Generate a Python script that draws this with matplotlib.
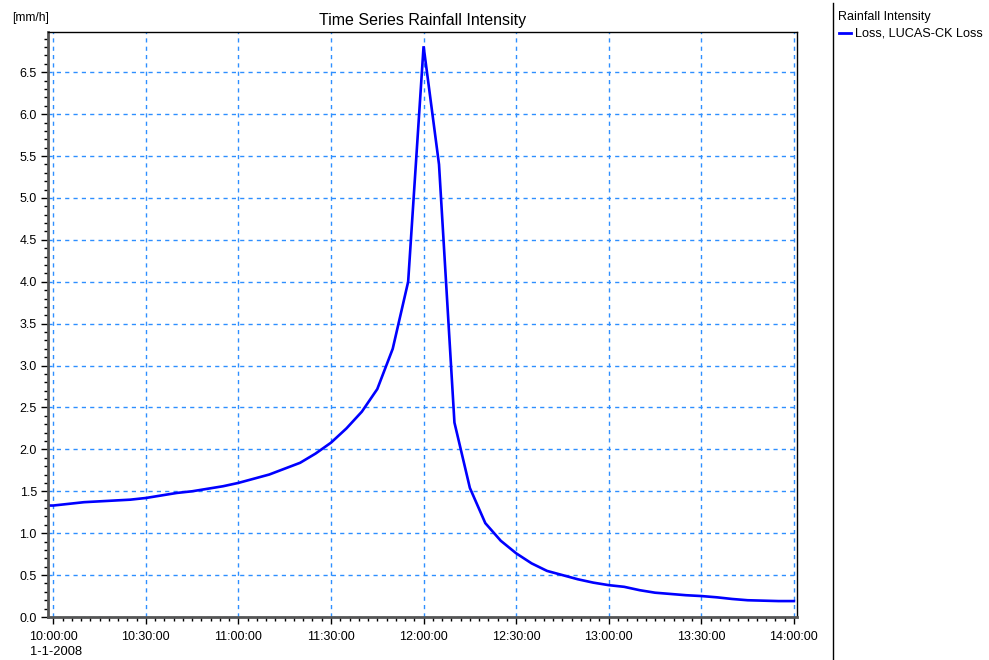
import datetime as dt
import matplotlib
matplotlib.use("Agg")
import matplotlib.pyplot as plt
import matplotlib.dates as mdates
from matplotlib.ticker import MultipleLocator

plt.rcParams['font.family'] = ['Liberation Sans', 'DejaVu Sans']

# 5-minute rainfall intensity [mm/h]
times = ["09:55", "10:00", "10:05", "10:10", "10:15", "10:20", "10:25", "10:30",
         "10:35", "10:40", "10:45", "10:50", "10:55", "11:00", "11:05", "11:10",
         "11:15", "11:20", "11:25", "11:30", "11:35", "11:40", "11:45", "11:50",
         "11:55", "12:00", "12:05", "12:10", "12:15", "12:20", "12:25", "12:30",
         "12:35", "12:40", "12:45", "12:50", "12:55", "13:00", "13:05", "13:10",
         "13:15", "13:20", "13:25", "13:30", "13:35", "13:40", "13:45", "13:50",
         "13:55", "14:00"]
intensity = [1.33, 1.33, 1.35, 1.37, 1.38, 1.39, 1.40, 1.42,
             1.45, 1.48, 1.50, 1.53, 1.56, 1.60, 1.65, 1.70,
             1.77, 1.84, 1.95, 2.08, 2.25, 2.45, 2.72, 3.20,
             4.00, 6.81, 5.40, 2.32, 1.54, 1.12, 0.91, 0.76,
             0.64, 0.55, 0.50, 0.45, 0.41, 0.38, 0.36, 0.32,
             0.29, 0.275, 0.26, 0.25, 0.235, 0.215, 0.20, 0.195,
             0.19, 0.19]

day = dt.date(2008, 1, 1)
t = [dt.datetime.combine(day, dt.datetime.strptime(s, "%H:%M").time()) for s in times]

fig = plt.figure(figsize=(9.89, 6.6), dpi=100)
ax = fig.add_axes([48 / 989, 43 / 660, 749 / 989, 585 / 660])

ax.plot(t, intensity, color='#0000ff', lw=1.9, solid_joinstyle='miter')

t0 = dt.datetime(2008, 1, 1, 10, 0)
t1 = dt.datetime(2008, 1, 1, 14, 0)
ax.set_xlim(t0 - dt.timedelta(minutes=1.7), t1 + dt.timedelta(minutes=1.0))
ax.set_ylim(0, 6.98)

ax.xaxis.set_major_locator(mdates.MinuteLocator(byminute=[0, 30]))
ax.xaxis.set_minor_locator(mdates.MinuteLocator(byminute=range(0, 60, 3)))
ax.xaxis.set_major_formatter(mdates.DateFormatter('%H:%M:%S'))
ax.yaxis.set_major_locator(MultipleLocator(0.5))
ax.yaxis.set_minor_locator(MultipleLocator(0.1))
ax.yaxis.set_major_formatter(matplotlib.ticker.FormatStrFormatter('%.1f'))

ax.grid(True, which='major', color='#2e8fff', ls=(0, (3, 3)), lw=1)
ax.tick_params(which='major', length=5, width=1, labelsize=9, color='black', pad=3)
ax.tick_params(axis='x', which='major', pad=5)
ax.tick_params(which='minor', length=3, width=1, color='black')

for side in ['left', 'bottom']:
    ax.spines[side].set_linewidth(2)
    ax.spines[side].set_color('#555555')
for side in ['top', 'right']:
    ax.spines[side].set_linewidth(1)
    ax.spines[side].set_color('black')

ax.set_title('Time Series Rainfall Intensity', fontsize=11.5, pad=5)
fig.text(12 / 989, 1 - 18 / 660, '[mm/h]', fontsize=8.7, va='center', ha='left')
fig.text(30 / 989, 1 - 652 / 660, '1-1-2008', fontsize=9.3, va='center', ha='left')

# legend panel on the right
fig.add_artist(plt.Line2D([833 / 989, 833 / 989], [0, 1 - 3 / 660], color='black', lw=1))
fig.text(838 / 989, 1 - 17 / 660, 'Rainfall Intensity', fontsize=9, va='center', ha='left')
fig.add_artist(plt.Line2D([839 / 989, 851 / 989], [1 - 33 / 660, 1 - 33 / 660], color='#0000ff', lw=2))
fig.text(855 / 989, 1 - 33 / 660, 'Loss, LUCAS-CK Loss', fontsize=9.1, va='center', ha='left')

fig.savefig('out.png', dpi=100)
